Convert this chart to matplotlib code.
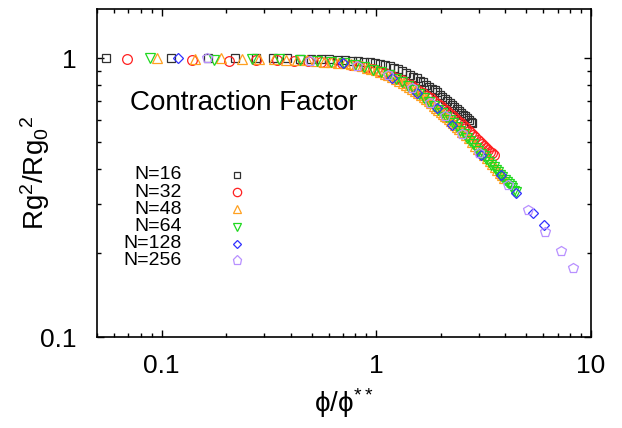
import matplotlib
matplotlib.use('Agg')
import matplotlib.pyplot as plt
from matplotlib.ticker import LogLocator, NullFormatter

plt.rcParams['font.family'] = ['Liberation Sans', 'DejaVu Sans']
plt.rcParams['mathtext.default'] = 'regular'

# N=16 (phi/phi** , Rg^2/Rg0^2)
x16 = [0.055, 0.11, 0.165, 0.22, 0.275, 0.33, 0.385, 0.44, 0.495, 0.55,
       0.605, 0.66, 0.715, 0.77, 0.825, 0.88, 0.935, 0.99, 1.045, 1.1,
       1.155, 1.21, 1.265, 1.32, 1.375, 1.43, 1.485, 1.54, 1.595, 1.65,
       1.705, 1.76, 1.815, 1.87, 1.925, 1.98, 2.035, 2.09, 2.145, 2.2,
       2.255, 2.31, 2.365, 2.42, 2.475, 2.53, 2.585, 2.64, 2.695, 2.75, 2.805]
y16 = [1.0, 1.0, 1.0, 1.0, 1.0, 0.998, 0.997, 0.995, 0.994, 0.993,
       0.99, 0.988, 0.984, 0.978, 0.973, 0.968, 0.965, 0.96, 0.953, 0.945,
       0.935, 0.923, 0.912, 0.9, 0.886, 0.873, 0.859, 0.847, 0.831, 0.818,
       0.804, 0.79, 0.777, 0.766, 0.754, 0.74, 0.727, 0.715, 0.703, 0.69,
       0.678, 0.667, 0.656, 0.646, 0.636, 0.627, 0.618, 0.608, 0.6, 0.592, 0.585]

# N=32
x32 = [0.069, 0.138, 0.207, 0.276, 0.345, 0.414, 0.483, 0.552, 0.621, 0.69,
       0.759, 0.828, 0.897, 0.966, 1.035, 1.104, 1.173, 1.242, 1.311, 1.38,
       1.449, 1.518, 1.587, 1.656, 1.725, 1.794, 1.863, 1.932, 2.001, 2.07,
       2.139, 2.208, 2.277, 2.346, 2.415, 2.484, 2.553, 2.622, 2.691, 2.76,
       2.829, 2.898, 2.967, 3.036, 3.105, 3.174, 3.243, 3.312, 3.381, 3.45, 3.519]
y32 = [0.99, 0.985, 0.98, 0.985, 0.983, 0.98, 0.977, 0.97, 0.965, 0.957,
       0.948, 0.938, 0.926, 0.912, 0.898, 0.883, 0.867, 0.85, 0.834, 0.816,
       0.8, 0.782, 0.765, 0.749, 0.733, 0.717, 0.702, 0.686, 0.671, 0.658,
       0.644, 0.631, 0.619, 0.607, 0.595, 0.583, 0.571, 0.56, 0.55, 0.54,
       0.53, 0.52, 0.51, 0.5, 0.492, 0.484, 0.476, 0.469, 0.462, 0.455, 0.449]

# N=48
x48 = [0.095, 0.1425, 0.19, 0.2375, 0.285, 0.3325, 0.38, 0.4275, 0.475, 0.5225,
       0.57, 0.6175, 0.665, 0.7125, 0.76, 0.8075, 0.855, 0.9025, 0.95, 0.9975,
       1.045, 1.0925, 1.14, 1.1875, 1.235, 1.2825, 1.33, 1.3775, 1.425, 1.4725,
       1.52, 1.5675, 1.615, 1.6625, 1.71, 1.7575, 1.805, 1.8525, 1.9, 1.9475,
       1.995, 2.0425, 2.09, 2.1375, 2.185, 2.2325, 2.28, 2.3275, 2.375, 2.4225,
       2.5175, 2.6125, 2.7075, 2.8025, 2.8975, 2.9925, 3.0875, 3.1825, 3.2775,
       3.3725, 3.4675, 3.5625, 3.6575, 3.7525, 3.8475, 3.9425]
y48 = [1.0, 0.995, 1.0, 0.995, 0.99, 0.99, 0.988, 0.985, 0.982, 0.976,
       0.972, 0.968, 0.963, 0.957, 0.95, 0.943, 0.935, 0.925, 0.915, 0.904,
       0.892, 0.88, 0.868, 0.855, 0.842, 0.829, 0.816, 0.803, 0.79, 0.777,
       0.764, 0.75, 0.737, 0.724, 0.712, 0.7, 0.688, 0.676, 0.664, 0.653,
       0.642, 0.632, 0.622, 0.613, 0.604, 0.595, 0.586, 0.577, 0.568, 0.559,
       0.545, 0.53, 0.515, 0.5, 0.486, 0.472, 0.46, 0.448, 0.437,
       0.426, 0.416, 0.406, 0.397, 0.388, 0.38, 0.372]

# N=64
x64 = [0.088, 0.176, 0.264, 0.352, 0.44, 0.528, 0.616, 0.704, 0.792, 0.88,
       0.968, 1.056, 1.144, 1.232, 1.32, 1.408, 1.496, 1.584, 1.672, 1.76,
       1.848, 1.936, 2.024, 2.112, 2.2, 2.288, 2.376, 2.464, 2.552, 2.64,
       2.728, 2.816, 2.904, 2.992, 3.08, 3.168, 3.256, 3.344, 3.432, 3.52,
       3.608, 3.696, 3.784, 3.872, 3.96, 4.048, 4.136, 4.224, 4.312, 4.4, 4.488]
y64 = [1.0, 0.985, 0.99, 0.99, 0.985, 0.975, 0.968, 0.958, 0.945, 0.93,
       0.91, 0.89, 0.867, 0.842, 0.818, 0.795, 0.77, 0.744, 0.72, 0.697,
       0.675, 0.654, 0.634, 0.617, 0.6, 0.583, 0.566, 0.55, 0.534, 0.519,
       0.505, 0.491, 0.478, 0.465, 0.454, 0.444, 0.434, 0.424, 0.415, 0.406,
       0.398, 0.39, 0.382, 0.374, 0.366, 0.359, 0.353, 0.347, 0.341, 0.335, 0.33]

# N=128
x128 = [0.119, 0.70, 1.19, 1.55, 1.92, 2.26, 3.06, 3.8, 4.5, 5.36, 6.07]
y128 = [1.0, 0.96, 0.848, 0.749, 0.66, 0.575, 0.449, 0.381, 0.328, 0.278, 0.252]

# N=256
x256 = [0.162, 0.49, 0.81, 1.13, 1.46, 1.78, 2.1, 2.5, 3.0, 4.1, 5.1, 6.1, 7.25, 8.24]
y256 = [1.0, 0.975, 0.94, 0.87, 0.78, 0.69, 0.62, 0.535, 0.455, 0.35, 0.285, 0.238, 0.203, 0.177]

labels = ['N=16', 'N=32', 'N=48', 'N=64', 'N=128', 'N=256']
series = [(x16, y16), (x32, y32), (x48, y48), (x64, y64), (x128, y128), (x256, y256)]
colours = ['#303030', '#ff2020', '#ffa020', '#20d820', '#3030ff', '#b890ff']
markers = ['s', 'o', '^', 'v', 'D', 'p']
sizes = [6, 7, 7, 7, 5.5, 7.5]

fig = plt.figure(figsize=(6.22, 4.28), dpi=100)
ax = fig.add_axes([0.156, 0.2126, 0.794, 0.7664])

for i in range(len(series)):
    xs, ys = series[i]
    ax.plot(xs, ys, linestyle='none', marker=markers[i], ms=sizes[i],
            mfc='none', mec=colours[i], mew=0.9)

ax.set_xscale('log')
ax.set_yscale('log')
ax.set_xlim(0.05, 10)
ax.set_ylim(0.1, 1.5)

ax.set_xticks([0.1, 1, 10])
ax.set_xticklabels(['0.1', '1', '10'])
ax.set_yticks([0.1, 1])
ax.set_yticklabels(['0.1', '1'])
ax.xaxis.set_minor_locator(LogLocator(base=10, subs=range(2, 10)))
ax.yaxis.set_minor_locator(LogLocator(base=10, subs=range(2, 10)))
ax.xaxis.set_minor_formatter(NullFormatter())
ax.yaxis.set_minor_formatter(NullFormatter())
ax.tick_params(which='both', direction='in', top=True, right=True, width=1)
ax.tick_params(which='major', length=5)
ax.tick_params(which='minor', length=3)
ax.tick_params(axis='x', labelsize=19, pad=12)
ax.tick_params(axis='y', labelsize=19, pad=15)
for s in ax.spines.values():
    s.set_linewidth(1.2)

ax.set_xlabel('ϕ/ϕ$^{**}$', fontsize=20, labelpad=6)
ax.set_ylabel('Rg$^2$/Rg$_0$$^2$', fontsize=20, labelpad=-9)

ax.text(0.067, 0.713, 'Contraction Factor', transform=ax.transAxes,
        fontsize=20, ha='left', va='center')

# key: labels right-aligned, marker to the right
row_y = [0.494, 0.442, 0.389, 0.336, 0.284, 0.234]
for i in range(len(labels)):
    ax.text(0.172, row_y[i], labels[i], transform=ax.transAxes,
            fontsize=14, ha='right', va='center')
    ax.plot([0.283], [row_y[i]], transform=ax.transAxes, linestyle='none',
            marker=markers[i], ms=sizes[i] - 1, mfc='none', mec=colours[i],
            mew=0.9)

fig.savefig('out.png', dpi=100)
